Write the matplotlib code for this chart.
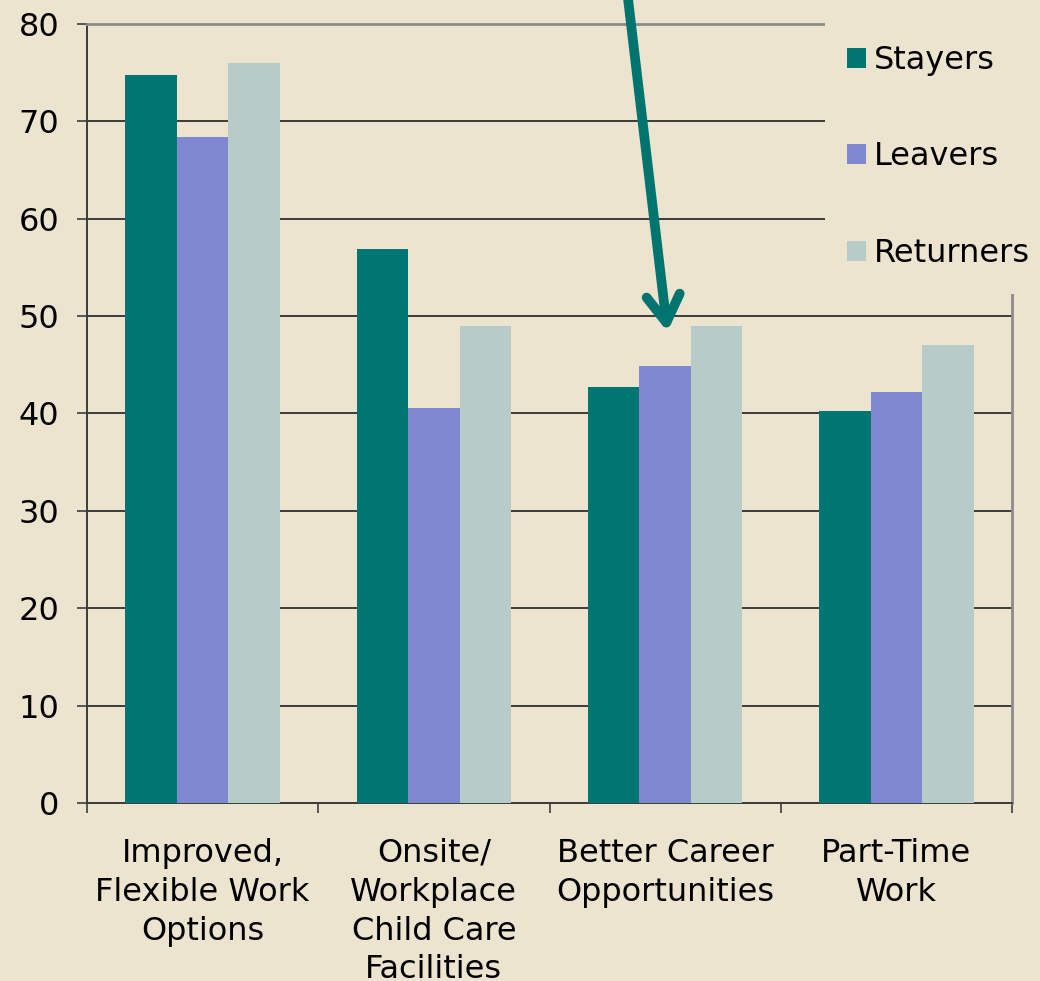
import numpy as np
import matplotlib
matplotlib.use("Agg")
from matplotlib import pyplot as plt
from matplotlib.patches import Rectangle

# Data
categories = ["Improved,\nFlexible Work\nOptions",
              "Onsite/\nWorkplace\nChild Care\nFacilities",
              "Better Career\nOpportunities",
              "Part-Time\nWork"]
stayers = [74.8, 56.9, 42.7, 40.3]
leavers = [68.4, 40.6, 44.9, 42.2]
returners = [76.0, 49.0, 49.0, 47.0]
series = ["Stayers", "Leavers", "Returners"]
colors = ["#007672", "#8088D0", "#B7CBC9"]

bg = "#EDE4D0"
plt.rcParams['font.family'] = ['DejaVu Sans']
fs = 23

fig = plt.figure(figsize=(10.4, 9.81), dpi=100, facecolor=bg)
ax = fig.add_axes([87/1040, 1-803/981, (1012-87)/1040, (803-24)/981])
ax.set_facecolor(bg)

x = np.arange(len(categories))
w = 0.223
for i, (vals, c) in enumerate(zip([stayers, leavers, returners], colors)):
    ax.bar(x + (i-1)*w, vals, width=w, color=c, zorder=3, label=series[i])

ax.set_xlim(-0.5, len(categories)-0.5)
ax.set_ylim(0, 80)
ax.set_yticks(range(0, 81, 10))
ax.yaxis.grid(True, color="#3C3C3C", lw=1.4, zorder=1)
ax.set_axisbelow(True)

ax.set_xticks(x)
ax.set_xticklabels(categories, fontsize=fs, linespacing=1.33)
ax.set_xticks(np.arange(-0.5, len(categories), 1), minor=True)
ax.tick_params(axis='x', which='major', length=0, pad=25)
ax.tick_params(axis='x', which='minor', length=7, width=1.2, color="#3C3C3C", direction='out')
ax.tick_params(axis='y', length=7, width=1.2, color="#3C3C3C", labelsize=fs, pad=13)

for s in ["left", "bottom"]:
    ax.spines[s].set_color("#3C3C3C")
    ax.spines[s].set_linewidth(1.4)
for s in ["top", "right"]:
    ax.spines[s].set_color("#8C8C8C")
    ax.spines[s].set_linewidth(2)

# legend area masks the plot corner
fig.patches.append(Rectangle((825/1040, 1-294/981), 1, 1, transform=fig.transFigure,
                             facecolor=bg, edgecolor='none', zorder=4))
handles = [Rectangle((0, 0), 1, 1, facecolor=c) for c in colors]
fig.legend(handles, series, loc='upper left', bbox_to_anchor=(847/1040, 1-45/981),
           frameon=False, fontsize=fs, handlelength=0.58, handleheight=0.58,
           handletextpad=0.25, labelspacing=2.05, borderpad=0, borderaxespad=0)

# arrow
ax.annotate("", xy=(2.01, 48.4), xycoords='data',
            xytext=(627/1040, 1.01), textcoords='figure fraction',
            arrowprops=dict(arrowstyle='->,head_length=0.65,head_width=0.4',
                            color="#00756F", lw=7, shrinkA=0, shrinkB=0,
                            mutation_scale=30, capstyle='round'),
            annotation_clip=False, zorder=6)

fig.savefig("out.png", dpi=100, facecolor=bg)
